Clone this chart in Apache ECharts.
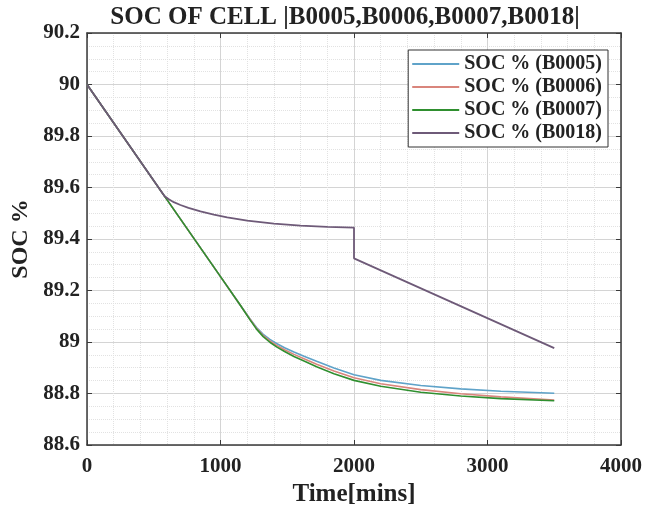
<!DOCTYPE html>
<html>
<head>
<meta charset="utf-8">
<script src="https://cdn.jsdelivr.net/npm/echarts@6/dist/echarts.min.js"></script>
<style>
  html, body { margin: 0; padding: 0; background: #fff; }
  #chart { width: 646px; height: 512px; }
</style>
</head>
<body>
<div id="chart"></div>
<script>
// time axis (mins) shared by the three cells that track each other
const timeMain = [0, 600, 1000, 1150, 1220, 1270, 1320, 1370, 1420, 1480, 1550, 1630, 1720, 1850, 2000, 2200, 2500, 2800, 3100, 3500];
const socB0005 = [90, 89.552, 89.254, 89.142, 89.090, 89.056, 89.030, 89.010, 88.994, 88.978, 88.961, 88.944, 88.925, 88.899, 88.873, 88.851, 88.831, 88.818, 88.809, 88.801];
const socB0006 = [90, 89.552, 89.254, 89.142, 89.089, 89.053, 89.025, 89.004, 88.987, 88.970, 88.952, 88.934, 88.914, 88.887, 88.861, 88.838, 88.815, 88.799, 88.787, 88.775];
const socB0007 = [90, 89.552, 89.254, 89.142, 89.087, 89.050, 89.021, 88.999, 88.981, 88.963, 88.944, 88.925, 88.904, 88.877, 88.851, 88.828, 88.805, 88.790, 88.780, 88.772];

// B0018 has its own time points (step down at 2000)
const timeB0018 = [0, 580, 610, 650, 700, 760, 850, 950, 1050, 1200, 1400, 1600, 1800, 2000, 2000, 3500];
const socB0018 = [90, 89.567, 89.555, 89.543, 89.532, 89.521, 89.507, 89.495, 89.484, 89.471, 89.460, 89.452, 89.447, 89.444, 89.325, 88.976];

const seriesNames = ['SOC % (B0005)', 'SOC % (B0006)', 'SOC % (B0007)', 'SOC % (B0018)'];
const colors = ['#5fa3c9', '#d9857c', '#2f8f2f', '#6e5a78'];

function pairs(xs, ys) {
    return xs.map((x, i) => [x, ys[i]]);
}

const font = 'Liberation Serif';
const axisColor = '#3a3a3a';
const textColor = '#222';

const chart = echarts.init(document.getElementById('chart'));

const baseAxis = {
    axisLine: { show: true, onZero: false, lineStyle: { color: axisColor, width: 1.5 } },
    axisTick: { show: true, inside: true, length: 5, lineStyle: { color: axisColor } },
};

function lineSeries(i, xs, ys, width) {
    return {
        name: seriesNames[i], type: 'line', symbol: 'none',
        lineStyle: { color: colors[i], width: width },
        itemStyle: { color: colors[i] },
        data: pairs(xs, ys)
    };
}

chart.setOption({
    animation: false,
    backgroundColor: '#fff',
    title: {
        text: 'SOC OF CELL |B0005,B0006,B0007,B0018|',
        left: 340, top: 0, textAlign: 'center',
        textStyle: { fontFamily: font, fontWeight: 'bold', fontSize: 25, color: textColor }
    },
    legend: {
        orient: 'vertical',
        right: 38, top: 50,
        data: seriesNames,
        icon: 'rect',
        itemWidth: 47, itemHeight: 2, itemGap: 3,
        padding: [4, 6, 4, 4],
        borderColor: '#333', borderWidth: 1, backgroundColor: '#fff',
        textStyle: { fontFamily: font, fontWeight: 'bold', fontSize: 20, color: textColor }
    },
    grid: { left: 87, right: 25, top: 33, bottom: 66 },
    xAxis: [
        Object.assign({}, baseAxis, {
            type: 'value', min: 0, max: 4000, interval: 1000,
            name: 'Time[mins]', nameLocation: 'middle', nameGap: 37,
            nameTextStyle: { fontFamily: font, fontWeight: 'bold', fontSize: 25, color: textColor },
            axisLabel: { margin: 11, fontFamily: font, fontWeight: 'bold', fontSize: 21, color: textColor,
                formatter: v => String(v) },
            minorTick: { show: false, splitNumber: 5 },
            splitLine: { show: true, lineStyle: { color: '#d4d4d4', width: 1 } },
            minorSplitLine: { show: true, lineStyle: { color: '#e2e2e2', width: 1, type: 'dotted' } }
        }),
        Object.assign({}, baseAxis, {
            type: 'value', position: 'top', min: 0, max: 4000, interval: 1000,
            axisLabel: { show: false }, splitLine: { show: false }
        })
    ],
    yAxis: [
        Object.assign({}, baseAxis, {
            type: 'value', min: 88.6, max: 90.2, interval: 0.2,
            name: 'SOC %', nameLocation: 'middle', nameGap: 48,
            nameTextStyle: { fontFamily: font, fontWeight: 'bold', fontSize: 24, color: textColor },
            axisLabel: { margin: 7, fontFamily: font, fontWeight: 'bold', fontSize: 21, color: textColor },
            minorTick: { show: false, splitNumber: 4 },
            splitLine: { show: true, lineStyle: { color: '#d4d4d4', width: 1 } },
            minorSplitLine: { show: true, lineStyle: { color: '#e2e2e2', width: 1, type: 'dotted' } }
        }),
        Object.assign({}, baseAxis, {
            type: 'value', position: 'right', min: 88.6, max: 90.2, interval: 0.2,
            axisLabel: { show: false }, splitLine: { show: false }
        })
    ],
    series: [
        lineSeries(0, timeMain, socB0005, 1.6),
        lineSeries(1, timeMain, socB0006, 1.6),
        lineSeries(2, timeMain, socB0007, 1.6),
        lineSeries(3, timeB0018, socB0018, 1.8)
    ]
});
</script>
</body>
</html>
